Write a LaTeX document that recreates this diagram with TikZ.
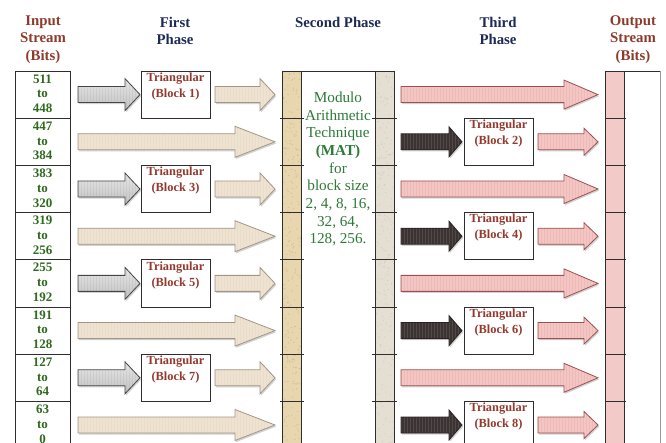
\documentclass[tikz,border=0pt]{standalone}
\usepackage{fontspec}
\setmainfont{Liberation Serif}
\usetikzlibrary{shadows}

\definecolor{hdrbrown}{HTML}{8E3B2C}
\definecolor{hdrnavy}{HTML}{1E2B57}
\definecolor{numgreen}{HTML}{2F6A1E}
\definecolor{matgreen}{HTML}{2E7A38}
\definecolor{tribrown}{HTML}{93392E}
\definecolor{framegray}{HTML}{2E2E2E}
\definecolor{grayfill}{HTML}{DCDCDC}
\definecolor{grayedge}{HTML}{454545}
\definecolor{beigefill}{HTML}{EEE3D2}
\definecolor{beigeedge}{HTML}{A39686}
\definecolor{pinkfill}{HTML}{F3C6C3}
\definecolor{pinkedge}{HTML}{9C5050}
\definecolor{darkfill}{HTML}{3B3232}
\definecolor{darkedge}{HTML}{2A2222}
\definecolor{tanstrip}{HTML}{E8D6AE}
\definecolor{stonestrip}{HTML}{E4DED3}
\definecolor{outstrip}{HTML}{F2CAC7}

% block arrow: style, x start, x tip, y centre, head length, head half-width
\newcommand\blockarrow[6]{%
  \draw[#1] (#2,#4-8) -- (#3-#5,#4-8) -- (#3-#5,#4-#6) -- (#3,#4)
    -- (#3-#5,#4+#6) -- (#3-#5,#4+8) -- (#2,#4+8) -- cycle;}

\tikzset{
  stripes/.style={path picture={
    \foreach \k in {0,...,70}{
      \draw[#1, line width=0.7pt]
        ([xshift=\k*3pt]path picture bounding box.south west) --
        ([xshift=\k*3pt]path picture bounding box.north west);}}},
  arrowbase/.style={line width=0.8pt, line join=miter,
    drop shadow={shadow xshift=1.2pt, shadow yshift=-1.6pt, opacity=0.35}},
  grayarrow/.style={arrowbase, draw=grayedge, top color=grayfill!70!white,
    bottom color=grayfill!88!black, stripes={black, opacity=0.05}},
  beigearrow/.style={arrowbase, draw=beigeedge, fill=beigefill,
    stripes={brown, opacity=0.07}},
  pinkarrow/.style={arrowbase, draw=pinkedge, fill=pinkfill,
    stripes={red!60!black, opacity=0.06}},
  darkarrow/.style={arrowbase, draw=darkedge, fill=darkfill,
    stripes={white, opacity=0.12}},
  frameline/.style={draw=framegray, line width=0.9pt},
  inbox/.style={frameline, rectangle, minimum width=55pt, minimum height=47.2pt,
    inner sep=0pt},
  tribox/.style={frameline, rectangle, minimum width=69pt, minimum height=47.2pt,
    inner sep=0pt, fill=white},
  numtext/.style={text=numgreen, align=center, inner sep=0pt,
    font=\fontsize{13}{14.8}\selectfont\bfseries},
  tritext/.style={text=tribrown, align=center, inner sep=0pt,
    font=\fontsize{12.4}{16}\selectfont\bfseries},
  headtext/.style={align=center, inner sep=0pt,
    font=\fontsize{14.8}{17.5}\selectfont\bfseries},
  mattext/.style={text=matgreen, align=center, inner sep=0pt,
    font=\fontsize{15.2}{17.7}\selectfont},
}

\begin{document}
\begin{tikzpicture}[x=1pt,y=-1pt]
\useasboundingbox (0,0) rectangle (666,443);
\fill[white] (0,0) rectangle (666,443);

% column headings
\node[headtext, text=hdrbrown] (hin) at (43,39.5) {Input\\Stream\\(Bits)};
\node[headtext, text=hdrnavy] (hfirst) at (175,31) {First\\Phase};
\node[headtext, text=hdrnavy] (hsecond) at (338,22) {Second Phase};
\node[headtext, text=hdrnavy] (hthird) at (498,31) {Third\\Phase};
\node[headtext, text=hdrbrown] (hout) at (633,39.5) {Output\\Stream\\(Bits)};

\begin{scope}
\clip (0,0) rectangle (666,443);

% second phase: textured side strips
\fill[tanstrip] (282,71) rectangle (301,450);
\fill[stonestrip] (375,71) rectangle (394,450);
\pgfmathsetseed{11}
\foreach \k in {1,...,260}{
  \pgfmathsetmacro\px{282+19*rnd}
  \pgfmathsetmacro\py{71+375*rnd}
  \fill[brown!70!black, opacity=0.18] (\px,\py) circle (0.7);
  \pgfmathsetmacro\qx{375+19*rnd}
  \pgfmathsetmacro\qy{71+375*rnd}
  \fill[black!60, opacity=0.15] (\qx,\qy) circle (0.6);
}
\draw[frameline] (282,450) -- (282,71) -- (394,71) -- (394,450);
\draw[frameline] (301,71) -- (301,450);
\draw[frameline] (375,71) -- (375,450);

% output stream column
\fill[outstrip] (605,71) rectangle (624,450);
\draw[frameline] (605,450) -- (605,71) -- (660,71);
\draw[frameline] (624,71) -- (624,450);
\draw[draw=gray!80, line width=0.8pt] (660,71) -- (660,450);

% the eight 64-bit rows
\foreach \i in {1,...,8}{
  \pgfmathsetmacro\yc{71+47.2*(\i-0.5)}
  \pgfmathsetmacro\yb{71+47.2*\i}
  \pgfmathtruncatemacro\hi{511-64*(\i-1)}
  \pgfmathtruncatemacro\lo{\hi-63}
  \node[inbox] (in\i) at (42.5,\yc) {};
  \node[numtext] (num\i) at ([yshift=1pt]in\i.center) {\hi\\to\\\lo};
  \draw[frameline] (280,\yb) -- (304,\yb);
  \draw[frameline] (372,\yb) -- (397,\yb);
  \draw[frameline] (605,\yb) -- (626,\yb);
  \ifodd\i
    \blockarrow{grayarrow}{78}{140}{\yc}{15}{16}
    \node[tribox] (blk\i) at (175.5,\yc) {};
    \node[tritext, anchor=north] (lbl\i) at ([yshift=-2pt]blk\i.north)
      {Triangular\\(Block \i)};
    \blockarrow{beigearrow}{215}{275}{\yc}{15}{16}
    \blockarrow{pinkarrow}{401}{598}{\yc}{34}{14.5}
  \else
    \blockarrow{beigearrow}{78}{275}{\yc}{40}{15.5}
    \blockarrow{darkarrow}{401}{462}{\yc}{13}{15}
    \node[tribox] (blk\i) at (498.5,\yc) {};
    \node[tritext, anchor=north] (lbl\i) at ([yshift=-2pt]blk\i.north)
      {Triangular\\(Block \i)};
    \blockarrow{pinkarrow}{538}{598}{\yc}{14}{13.5}
  \fi
}
\end{scope}

% second phase description
\node[mattext] (mat) at (338,169)
  {Modulo\\Arithmetic\\Technique\\\textbf{(MAT)}\\for\\block size\\2, 4, 8, 16,\\32, 64,\\128, 256.};
\end{tikzpicture}
\end{document}
